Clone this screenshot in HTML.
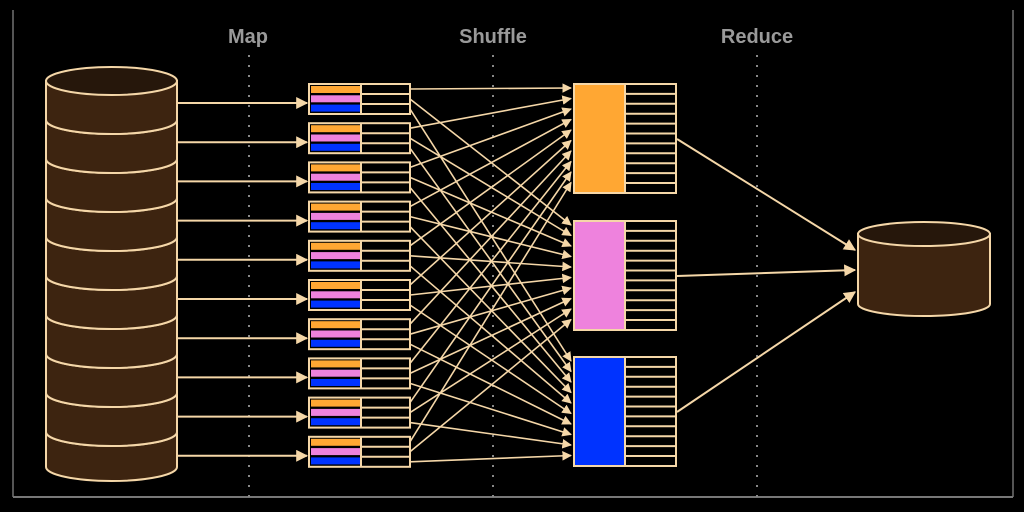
<!DOCTYPE html>
<html><head><meta charset="utf-8"><style>
html,body{margin:0;padding:0;background:#000;width:1024px;height:512px;overflow:hidden}
svg{display:block}
text{font-family:"Liberation Sans",sans-serif;font-weight:bold;font-size:20px;fill:#9a9a9a}
</style></head><body>
<svg id="s" width="1024" height="512">
<defs><marker id="ah" viewBox="0 0 10 10" refX="9" refY="5" markerWidth="6" markerHeight="6" orient="auto"><path d="M0,0L10,5L0,10z" fill="#f5d7a8"/></marker></defs>
<line x1="13" y1="10" x2="13" y2="497" stroke="#555" stroke-width="2"/>
<line x1="1013" y1="10" x2="1013" y2="497" stroke="#555" stroke-width="2"/>
<line x1="13" y1="497" x2="1013" y2="497" stroke="#777" stroke-width="2"/>
<text x="248" y="43" text-anchor="middle">Map</text>
<text x="493" y="43" text-anchor="middle">Shuffle</text>
<text x="757" y="43" text-anchor="middle">Reduce</text>
<g id="g"></g>
</svg>
<script>
const mapCount = 10;
const reducerColors = ['#ffa733','#ee82dd','#0033ff'];
const reducerTops = [84, 221, 357];
const NS='http://www.w3.org/2000/svg';
const g=document.getElementById('g');
const C='#f5d7a8';
function el(t,a,p){const e=document.createElementNS(NS,t);for(const k in a)e.setAttribute(k,a[k]);(p||g).appendChild(e);return e;}
// dotted separators
[249,493,757].forEach(x=>{
  const l=el('line',{x1:x,y1:55,x2:x,y2:497,stroke:'#888','stroke-width':2,'stroke-dasharray':'2 8'});
  
  
});
function cyl(x,y,w,h,ry,name){
  const cg=el('g',{});
  
  
  el('path',{d:`M${x},${y} L${x},${y+h} A${w/2},${ry} 0 0 0 ${x+w},${y+h} L${x+w},${y} Z`,fill:'#3d2410',stroke:C,'stroke-width':2},cg);
  el('ellipse',{cx:x+w/2,cy:y,rx:w/2,ry:ry,fill:'#26170b',stroke:C,'stroke-width':2},cg);
}
// input cylinder stack
for(let i=mapCount-1;i>=0;i--){
  const y=81+i*39;
  if(i>0){el('path',{d:`M46,${y-3} A65.5,13 0 0 0 177,${y-3}`,fill:'none',stroke:C,'stroke-width':2});}
  cyl(46,y,131,i==mapCount-1?386-i*39:39,14,'input-disk-segment');
}
// map boxes
const mapRowY=[];
for(let i=0;i<mapCount;i++){
  const y=84+i*39.2;
  const bg=el('g',{});
  
  
  el('rect',{x:309,y:y,width:101,height:30,fill:'#000',stroke:C,'stroke-width':2},bg);
  for(let k=0;k<3;k++){
    el('rect',{x:311,y:y+2+k*9.3,width:50,height:7,fill:reducerColors[k]},bg);
    if(k>0) el('line',{x1:361,y1:y+k*10,x2:410,y2:y+k*10,stroke:C,'stroke-width':2},bg);
  }
  el('line',{x1:361,y1:y,x2:361,y2:y+30,stroke:C,'stroke-width':2},bg);
  const a=el('line',{x1:177,y1:y+19,x2:307,y2:y+19,stroke:C,'stroke-width':2,'marker-end':'url(#ah)'});
  
  
  mapRowY.push(y);
}
// shuffle lines
for(let i=0;i<mapCount;i++)for(let k=0;k<3;k++){
  const l=el('line',{x1:410,y1:mapRowY[i]+5+k*10,x2:571,y2:reducerTops[k]+4+i*10.5,stroke:C,'stroke-width':1.6,'marker-end':'url(#ah)'});
  
  
}
// reducers
const outY=[250,270,292];
reducerTops.forEach((t,k)=>{
  const rg=el('g',{});
  
  
  el('rect',{x:574,y:t,width:102,height:109,fill:'#000',stroke:C,'stroke-width':2},rg);
  el('rect',{x:575,y:t+1,width:50,height:107,fill:reducerColors[k]},rg);
  for(let r=1;r<11;r++)el('line',{x1:625,y1:t+r*9.9,x2:676,y2:t+r*9.9,stroke:C,'stroke-width':2},rg);
  el('line',{x1:625,y1:t,x2:625,y2:t+109,stroke:C,'stroke-width':2},rg);
  const a=el('line',{x1:677,y1:t+55,x2:855,y2:outY[k],stroke:C,'stroke-width':2,'marker-end':'url(#ah)'});
  
  
});
cyl(858,234,132,70,12,'output-disk');
</script>
</body></html>
